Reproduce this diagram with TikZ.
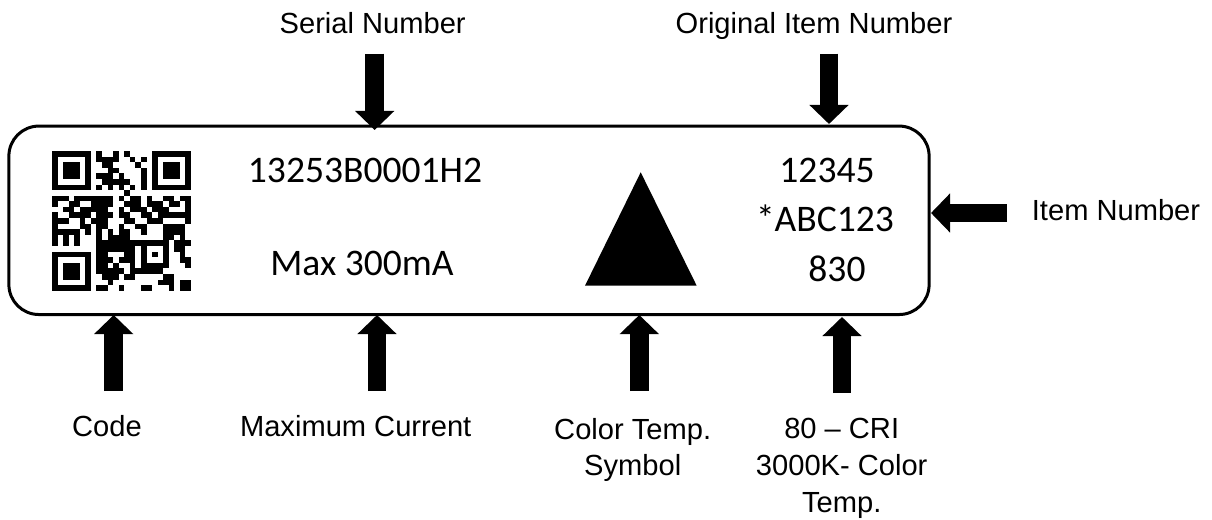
\documentclass[tikz,border=0pt]{standalone}
\usepackage{fontspec}
\usepackage{xcolor}
\usetikzlibrary{calc,positioning,arrows.meta}
\setmainfont{Liberation Sans}
\newfontfamily\labelfont{Carlito}
\begin{document}
\begin{tikzpicture}[
  x=0.025cm, y=-0.025cm,
  outer/.style={font=\fontsize{20.7}{26}\selectfont, align=center, anchor=base, inner sep=0pt},
  inner/.style={font=\labelfont\fontsize{26.7}{32}\selectfont, anchor=base, inner sep=0pt},
  arr/.style={-{Triangle[length=0.475cm, width=0.95cm]}, line width=0.4625cm, black},
  plate/.style={draw=black, line width=0.075cm, rounded corners=0.75cm, outer sep=0pt,
    minimum width=23cm, minimum height=4.71cm},
]
  \useasboundingbox (0,0) rectangle (1212,520);
  \node[plate] (plate) at (469,220.3) {};

  % texts on the plate
  \node[inner] (serial) at (365,182) {13253B0001H2};
  \node[inner] (current) at (362,275) {Max 300mA};
  \node[inner] (orig) at (827,182) {12345};
  \node[inner] (item) at (825,231) {*ABC123};
  \node[inner] (cri) at (837,281) {830};
  \fill (640.7,172.3) -- (696.7,285.7) -- (585,285.7) -- cycle;

  % code
  \foreach \r/\runs in {
    0/{0/6,8/8,11/11,13/13,18/24},
    1/{0/0,6/6,8/11,14/14,16/16,18/18,24/24},
    2/{0/0,2/4,6/6,9/10,15/15,18/18,20/22,24/24},
    3/{0/0,2/4,6/6,10/11,16/16,18/18,20/22,24/24},
    4/{0/0,2/4,6/6,8/10,12/12,16/16,18/18,20/22,24/24},
    5/{0/0,6/6,9/13,16/16,18/18,24/24},
    6/{0/6,8/8,10/10,12/12,14/14,16/16,18/24},
    7/{13/13},
    8/{0/2,4/10,12/12,14/15,17/17,20/21,23/24},
    9/{0/0,3/4,7/10,13/15,17/19,21/22,24/24},
    10/{2/3,5/9,12/12,14/16,18/20,24/24},
    11/{0/0,3/6,8/10,12/13,16/17,19/24},
    12/{0/2,5/5,7/9,13/14,17/19,24/24},
    13/{0/0,5/6,8/9,12/12,15/16,20/23},
    14/{0/4,6/6,8/8,10/10,12/13,16/16,20/23},
    15/{0/0,2/2,4/4,8/8,10/13,20/21,23/23},
    16/{0/0,2/2,4/4,8/20,22/24},
    17/{8/14,16/16,20/20,22/23},
    18/{0/6,8/9,13/14,16/16,18/18,20/20,23/23},
    19/{0/0,6/6,8/10,12/14,16/16,20/20,23/24},
    20/{0/0,2/4,6/6,8/9,11/11,14/14,16/20,24/24},
    21/{0/0,2/4,6/6,8/12,14/19},
    22/{0/0,2/4,6/6,9/11,13/14,20/21},
    23/{0/0,6/6,10/10,19/21,23/24},
    24/{0/6,8/9,12/12,16/17,21/21,23/24}} {
    \foreach \a/\b in \runs {
      \fill ({52+5.56*\a},{151+5.59*\r}) rectangle ({52+5.56*(\b+1)},{151+5.59*(\r+1)});
    }
  }

  % labels
  \node[outer] (lserial) at (372.7,33) {Serial Number};
  \node[outer] (lorig) at (814,33) {Original Item Number};
  \node[outer] (litem) at (1116,220.7) {Item Number};
  \node[outer] (lcode) at (107,436) {Code};
  \node[outer] (lcurrent) at (355.7,436) {Maximum Current};
  \node[outer] (lsymbol) at (632.7,475.7) {Color Temp.\\Symbol};
  \node[outer] (lcri) at (841.7,512) {80 -- CRI\\3000K- Color\\Temp.};

  \coordinate (a1) at (374.7,53.5);
  \coordinate (b1) at (374.7,130);
  \coordinate (a2) at (829,53.5);
  \coordinate (b2) at (829,124);
  \coordinate (a3) at (1007,213);
  \coordinate (b3) at (931,213);
  \coordinate (a4) at (113.7,391);
  \coordinate (b4) at (113.7,315);
  \coordinate (a5) at (377,391);
  \coordinate (b5) at (377,315);
  \coordinate (a6) at (639.3,391);
  \coordinate (b6) at (639.3,315);
  \coordinate (a7) at (842,393);
  \coordinate (b7) at (842,317);
  \foreach \i in {1,...,7} {
    \draw[arr] (a\i) -- (b\i);
  }
\end{tikzpicture}
\end{document}
